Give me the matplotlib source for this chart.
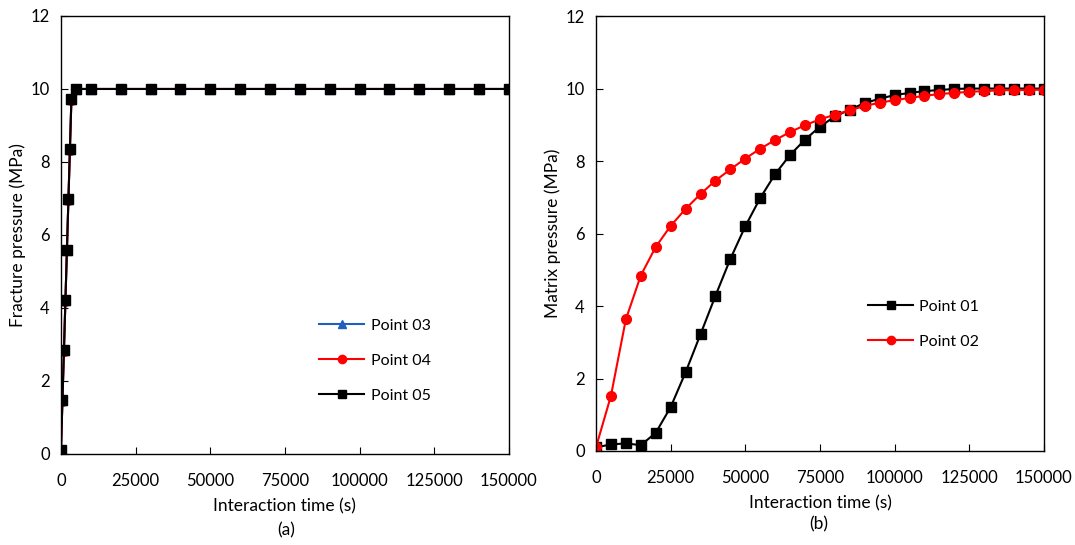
import matplotlib
matplotlib.use("Agg")
import matplotlib.pyplot as plt

plt.rcParams['font.family'] = ['Lato', 'DejaVu Sans']

# (a) fracture pressure
t_frac = [0, 500, 1000, 1500, 2000, 2500, 3000, 3500, 5000, 10000, 20000, 30000,
          40000, 50000, 60000, 70000, 80000, 90000, 100000, 110000, 120000,
          130000, 140000, 150000]
p03 = [0.1, 1.48, 2.84, 4.22, 5.6, 6.98, 8.35, 9.72, 10.0, 10.0, 10.0, 10.0,
       10.0, 10.0, 10.0, 10.0, 10.0, 10.0, 10.0, 10.0, 10.0, 10.0, 10.0, 10.0]
p04 = [0.1, 1.46, 2.82, 4.2, 5.58, 6.96, 8.33, 9.7, 10.0, 10.0, 10.0, 10.0,
       10.0, 10.0, 10.0, 10.0, 10.0, 10.0, 10.0, 10.0, 10.0, 10.0, 10.0, 10.0]
p05 = [0.1, 1.48, 2.84, 4.22, 5.6, 6.98, 8.35, 9.72, 10.0, 10.0, 10.0, 10.0,
       10.0, 10.0, 10.0, 10.0, 10.0, 10.0, 10.0, 10.0, 10.0, 10.0, 10.0, 10.0]

# (b) matrix pressure
t_mat = list(range(0, 150001, 5000))
p01 = [0.1, 0.18, 0.21, 0.16, 0.5, 1.21, 2.17, 3.22, 4.28, 5.3, 6.2, 6.98,
       7.64, 8.17, 8.59, 8.95, 9.23, 9.42, 9.6, 9.72, 9.82, 9.88, 9.93, 9.96,
       9.99, 10.0, 10.0, 10.0, 10.0, 10.0, 10.0]
p02 = [0.1, 1.52, 3.63, 4.84, 5.63, 6.21, 6.68, 7.09, 7.46, 7.77, 8.07, 8.34,
       8.58, 8.8, 8.99, 9.15, 9.28, 9.4, 9.52, 9.61, 9.68, 9.74, 9.8, 9.85,
       9.88, 9.91, 9.93, 9.95, 9.96, 9.96, 9.97]

xticks = [0, 25000, 50000, 75000, 100000, 125000, 150000]
yticks = [0, 2, 4, 6, 8, 10, 12]

fig = plt.figure(figsize=(10.75, 5.45), dpi=100)
ax1 = fig.add_axes([0.0567, 0.167, 0.4167, 0.8037])
ax2 = fig.add_axes([0.5544, 0.1725, 0.4167, 0.798])

ax1.plot(t_frac, p03, '-', color='#1f5fbf', marker='^', ms=7, lw=1.5, label='Point 03')
ax1.plot(t_frac, p04, '-', color='#ff0000', marker='o', ms=7, lw=1.5, label='Point 04')
ax1.plot(t_frac, p05, '-', color='black', marker='s', ms=7, lw=1.5, label='Point 05')

ax2.plot(t_mat, p01, '-', color='black', marker='s', ms=7, lw=1.5, label='Point 01')
ax2.plot(t_mat, p02, '-', color='#ff0000', marker='o', ms=7, lw=1.5, label='Point 02')

for ax, ylab in [(ax1, 'Fracture pressure (MPa)'), (ax2, 'Matrix pressure (MPa)')]:
    ax.set_xlim(0, 150000)
    ax.set_ylim(0, 12)
    ax.set_xticks(xticks)
    ax.set_yticks(yticks)
    ax.tick_params(direction='in', length=5, labelsize=12, pad=8)
    ax.tick_params(axis='x', pad=13.5)
    ax.set_xlabel('Interaction time (s)', fontsize=12.5, labelpad=7)
    ax.set_ylabel(ylab, fontsize=12.5, labelpad=3)
    for s in ax.spines.values():
        s.set_linewidth(1.0)

ax1.legend(loc='center left', bbox_to_anchor=(0.545, 0.213), frameon=False,
           fontsize=11.5, handlelength=2.8, handletextpad=0.4,
           labelspacing=1.3, markerscale=0.85)
ax2.legend(loc='center left', bbox_to_anchor=(0.576, 0.292), frameon=False,
           fontsize=11.5, handlelength=2.8, handletextpad=0.4,
           labelspacing=1.3, markerscale=0.85)

fig.text(0.266, 0.018, '(a)', ha='center', fontsize=12.5)
fig.text(0.762, 0.029, '(b)', ha='center', fontsize=12.5)

fig.savefig('out.png', dpi=100)
